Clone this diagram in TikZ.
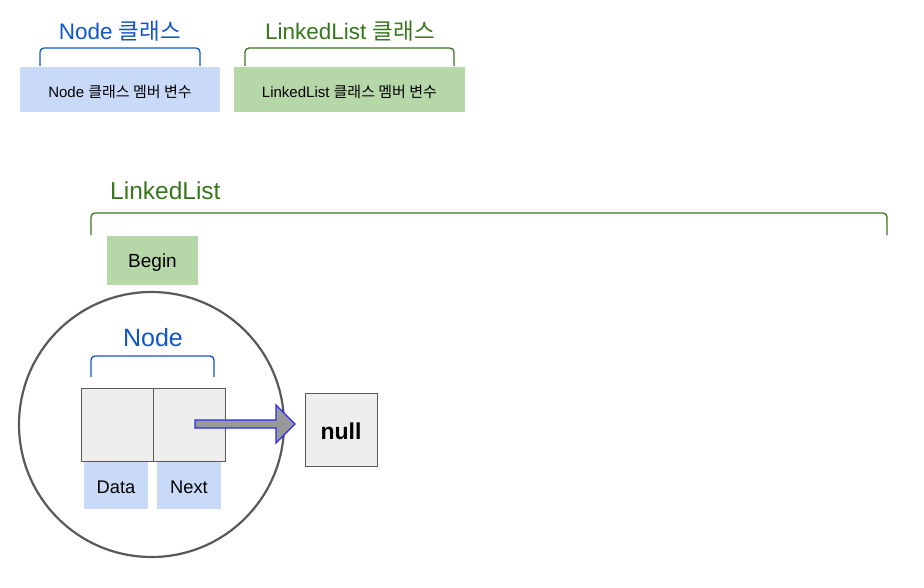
\documentclass[tikz,border=0pt]{standalone}
\usepackage{fontspec}
\setmainfont{Liberation Sans}
\newfontfamily\kr{Noto Sans CJK KR}
\usetikzlibrary{positioning}
\definecolor{tblue}{HTML}{1155CC}
\definecolor{tgreen}{HTML}{38761D}
\definecolor{lblue}{HTML}{C9DAF8}
\definecolor{lgreen}{HTML}{B6D7A8}
\definecolor{cellgray}{HTML}{EEEEEE}
\definecolor{edgegray}{HTML}{595959}
\definecolor{arrowfill}{HTML}{999999}
\definecolor{arrowedge}{HTML}{2B2BF0}
\tikzset{
  boxbase/.style={inner sep=0pt, outer sep=0pt, anchor=north west},
  bluebox/.style={boxbase, fill=lblue},
  greenbox/.style={boxbase, fill=lgreen},
  cellbox/.style={boxbase, fill=cellgray, draw=edgegray, line width=1pt},
  bracket/.style={line width=1.3pt, rounded corners=4pt},
  title/.style={font=\fontsize{22.5}{26}\selectfont, inner sep=0pt},
  lbl/.style={yshift=-2pt},
}
\begin{document}
\begin{tikzpicture}[x=1pt,y=-1pt]
\useasboundingbox (0,0) rectangle (924,587);

% legend
\node[title, text=tblue] (nodecls) at (120,31) {Node {\kr 클래스}};
\draw[bracket, draw=tblue] (40,66) -- (40,48) -- (200,48) -- (200,66);
\node[bluebox, minimum width=200pt, minimum height=45pt] (nodemem) at (20,67) {};
\node[lbl, font=\fontsize{15}{17}\selectfont] at (nodemem.center) {Node {\kr 클래스 멤버 변수}};

\node[title, text=tgreen] (llcls) at (350,31) {LinkedList {\kr 클래스}};
\draw[bracket, draw=tgreen] (245,66) -- (245,48) -- (454,48) -- (454,66);
\node[greenbox, minimum width=231pt, minimum height=45pt] (llmem) at (234,67) {};
\node[lbl, font=\fontsize{15}{17}\selectfont] at (llmem.center) {LinkedList {\kr 클래스 멤버 변수}};

% LinkedList
\node[text=tgreen, inner sep=0pt, font=\fontsize{24.5}{28}\selectfont, anchor=west] (lltitle) at (110,191) {LinkedList};
\draw[bracket, draw=tgreen] (91,235) -- (91,213) -- (887,213) -- (887,235);
\node[greenbox, minimum width=91pt, minimum height=49pt] (begin) at (107,236) {};
\node[lbl, font=\fontsize{19}{22}\selectfont] at (begin.center) {Begin};

% circle
\node[circle, draw=edgegray, line width=2.2pt, minimum size=265pt, inner sep=0pt] (circ) at (151.5,424.5) {};

\node[text=tblue, inner sep=0pt, font=\fontsize{25}{28}\selectfont] (nodet) at (153,338) {Node};
\draw[bracket, draw=tblue] (91,377) -- (91,356) -- (214,356) -- (214,377);

\node[cellbox, minimum width=72pt, minimum height=73pt] (datacell) at (81,388) {};
\node[cellbox, minimum width=72pt, minimum height=73pt] (nextcell) at (153,388) {};

\node[bluebox, minimum width=64pt, minimum height=47pt] (data) at (84,462) {};
\node[lbl, font=\fontsize{18.3}{21}\selectfont] at (data.center) {Data};
\node[bluebox, minimum width=64pt, minimum height=47pt] (next) at (157,462) {};
\node[lbl, font=\fontsize{18.3}{21}\selectfont] at (next.center) {Next};

% null
\node[cellbox, minimum width=72pt, minimum height=73pt] (null) at (305,393) {};
\node[lbl, font=\bfseries\fontsize{23}{26}\selectfont] at (null.center) {null};

% block arrow
\draw[fill=arrowfill, draw=arrowedge, line width=1.2pt, line join=miter]
  (195,420) -- (276,420) -- (276,405) -- (295,424) -- (276,443) -- (276,428) -- (195,428) -- cycle;
\end{tikzpicture}
\end{document}
